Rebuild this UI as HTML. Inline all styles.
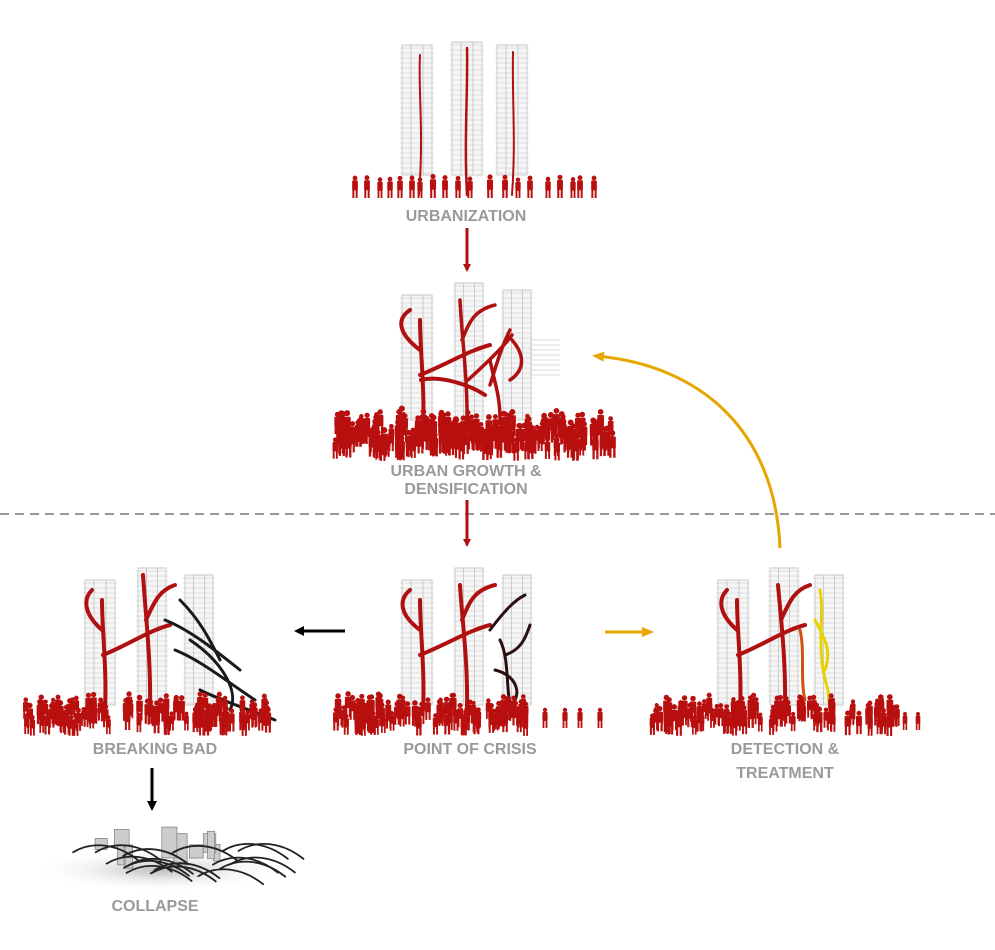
<!DOCTYPE html>
<html><head><meta charset="utf-8">
<style>
html,body{margin:0;padding:0;background:#fff;}
svg{display:block;}
text{font-family:"Liberation Sans",Arial,sans-serif;font-weight:bold;fill:#9a9a9a;font-size:16px;text-anchor:middle;}
</style></head>
<body>
<svg id="s" width="995" height="950" viewBox="0 0 995 950" xmlns="http://www.w3.org/2000/svg">
<defs>
<marker id="ar" markerWidth="8" markerHeight="8" refX="6" refY="4" orient="auto" markerUnits="userSpaceOnUse"><path d="M0,0 L8,4 L0,8 Z" fill="#b01010"/></marker>
<marker id="ab" markerWidth="10" markerHeight="10" refX="7" refY="5" orient="auto" markerUnits="userSpaceOnUse"><path d="M0,0 L10,5 L0,10 Z" fill="#000"/></marker>
<marker id="ao" markerWidth="12" markerHeight="10" refX="8" refY="5" orient="auto" markerUnits="userSpaceOnUse"><path d="M0,0 L12,5 L0,10 Z" fill="#e6a500"/></marker>
<radialGradient id="fog" cx="0.5" cy="0.5" r="0.5"><stop offset="0" stop-color="#bbb"/><stop offset="1" stop-color="#fff" stop-opacity="0"/></radialGradient>
</defs>
<g id="towers"></g>
<g id="trees" fill="none" stroke-linecap="round" stroke-linejoin="round"></g>
<g id="people" fill="#b80f0f"></g>

<text x="466" y="221">URBANIZATION</text>
<text x="466" y="476">URBAN GROWTH &amp;</text>
<text x="466" y="494">DENSIFICATION</text>
<text x="155" y="754">BREAKING BAD</text>
<text x="470" y="754">POINT OF CRISIS</text>
<text x="785" y="754">DETECTION &amp;</text>
<text x="785" y="778">TREATMENT</text>
<text x="155" y="911">COLLAPSE</text>

<line x1="0" y1="514" x2="995" y2="514" stroke="#999" stroke-width="2" stroke-dasharray="9,6"/>
<line x1="467" y1="228" x2="467" y2="270" stroke="#b01010" stroke-width="3" marker-end="url(#ar)"/>
<line x1="467" y1="500" x2="467" y2="545" stroke="#b01010" stroke-width="3" marker-end="url(#ar)"/>
<line x1="345" y1="631" x2="297" y2="631" stroke="#000" stroke-width="3" marker-end="url(#ab)"/>
<line x1="605" y1="632" x2="650" y2="632" stroke="#e6a500" stroke-width="3" marker-end="url(#ao)"/>
<line x1="152" y1="768" x2="152" y2="808" stroke="#000" stroke-width="3" marker-end="url(#ab)"/>
<path d="M780,548 C775,430 700,365 596,356" fill="none" stroke="#e6a500" stroke-width="3" marker-end="url(#ao)"/>

<ellipse cx="160" cy="870" rx="130" ry="22" fill="url(#fog)"/>
<g id="collapse" fill="none" stroke-linecap="round"></g>
</svg>
<script>
var NS="http://www.w3.org/2000/svg";
function el(p,t,a){var e=document.createElementNS(NS,t);for(var k in a)e.setAttribute(k,a[k]);document.getElementById(p).appendChild(e);return e;}
var seed=7;function r(){seed=(seed*9301+49297)%233280;return seed/233280;}
function tower(x,y,w,h){
 el("towers","rect",{x:x,y:y,width:w,height:h,fill:"#f6f6f6",stroke:"#c8c8c8","stroke-width":1});
 for(var yy=y+3;yy<y+h;yy+=5) el("towers","line",{x1:x-2,y1:yy,x2:x+w+2,y2:yy,stroke:"#d6d6d6","stroke-width":0.7});
 el("towers","line",{x1:x+w*0.3,y1:y,x2:x+w*0.3,y2:y+h,stroke:"#bbb","stroke-width":0.7});
 el("towers","line",{x1:x+w*0.7,y1:y,x2:x+w*0.7,y2:y+h,stroke:"#bbb","stroke-width":0.7});
}
function person(x,yb,h,g){
 g=g||"people";
 el(g,"circle",{cx:x,cy:yb-h+2,r:h*0.11});
 el(g,"rect",{x:x-h*0.13,y:yb-h+h*0.2,width:h*0.26,height:h*0.45,rx:1});
 el(g,"rect",{x:x-h*0.12,y:yb-h*0.38,width:h*0.09,height:h*0.38});
 el(g,"rect",{x:x+h*0.03,y:yb-h*0.38,width:h*0.09,height:h*0.38});
}
function crowd(x1,x2,yb,n,rows,h){
 for(var k=0;k<rows;k++)for(var i=0;i<n;i++){person(x1+r()*(x2-x1),yb-k*7+r()*6,h*(0.85+r()*0.3));}
}
function path(d,c,w,g){el(g||"trees","path",{d:d,stroke:c,"stroke-width":w});}
// top
tower(402,45,30,130);tower(452,42,30,133);tower(497,45,30,130);
path("M420,55 C418,90 424,130 419,195","#b01010",2);
path("M467,48 C468,90 464,140 467,195","#b01010",2.5);
path("M513,52 C512,100 516,140 512,195","#b01010",2);
var xs=[355,367,380,390,400,412,420,433,445,458,470,490,505,518,530,548,560,573,580,594];
xs.forEach(function(x){person(x,198,20+r()*4);});
// growth
tower(402,295,30,125);tower(455,283,28,137);tower(503,290,28,130);
for(var i=0;i<8;i++)el("towers","line",{x1:530,y1:340+i*5,x2:560,y2:340+i*5,stroke:"#ccc","stroke-width":0.8});
path("M423,430 C425,390 420,350 420,320 M420,350 C400,335 395,320 410,310 M420,375 C445,365 470,350 490,345 M421,380 C440,375 470,385 485,395","#b01010",4);
path("M467,430 C468,380 462,340 460,300 M462,340 C470,320 475,310 495,305 M468,380 C490,360 505,345 512,335 M490,385 C495,370 500,350 510,330 M500,420 C500,395 495,385 490,360 M512,340 C525,355 525,370 510,380","#b01010",3.5);
crowd(335,615,455,45,4,24);
// crisis
tower(402,580,30,125);tower(455,568,28,137);tower(503,575,28,130);
path("M423,710 C425,670 420,630 420,600 M420,630 C400,615 398,600 410,590 M420,655 C445,645 470,630 490,625 M467,710 C468,660 462,620 460,585 M462,620 C470,600 475,590 495,585","#b01010",4);
path("M490,630 C505,610 515,600 525,595 M500,640 C510,660 505,690 512,712 M505,655 C520,650 525,640 530,625 M495,670 C515,675 520,690 515,700","#2a1010",3);
crowd(335,530,730,30,3,22);[545,565,580,600].forEach(function(x){person(x,728,20);});
// breaking bad
tower(85,580,30,125);tower(138,568,28,137);tower(185,575,28,130);
path("M105,710 C107,670 102,630 102,600 M102,630 C85,615 82,600 92,590 M103,655 C128,645 150,630 170,625 M150,710 C151,660 146,620 143,575 M146,620 C155,600 160,590 175,585","#b01010",4);
path("M165,620 C190,630 215,650 240,670 M175,650 C200,660 225,680 255,700 M180,600 C200,620 210,640 220,660 M200,690 C220,700 250,710 275,720 M190,640 C220,660 240,690 230,710","#1a1a1a",3);
crowd(25,270,730,32,3,22);
// detection
tower(718,580,30,125);tower(770,568,28,137);tower(815,575,28,130);
path("M740,710 C742,670 737,630 737,600 M737,630 C720,615 717,600 727,590 M738,655 C763,645 785,630 805,625 M785,710 C786,660 781,620 778,585 M781,620 C790,600 795,590 810,585","#b01010",4);
path("M800,630 C805,650 800,680 805,700","#d05010",3);
path("M820,590 C825,620 815,650 828,690 M815,620 C825,640 832,650 825,670 M828,690 L830,712","#e5d200",3);
crowd(652,900,730,34,3,22);[905,918].forEach(function(x){person(x,730,18);});
// collapse
var cg="collapse";
for(var i=0;i<10;i++){el(cg,"rect",{x:90+r()*150,y:825+r()*25,width:6+r()*10,height:10+r()*22,fill:"#ccc",stroke:"#888","stroke-width":0.8});}
for(var i=0;i<16;i++){var x=55+r()*200,y=850+r()*30;path("M"+x+","+y+" C"+(x+20)+","+(y-12)+" "+(x+45)+","+(y-8)+" "+(x+65)+","+(y+8),"#222",1.8,cg);}
</script>
</body></html>
